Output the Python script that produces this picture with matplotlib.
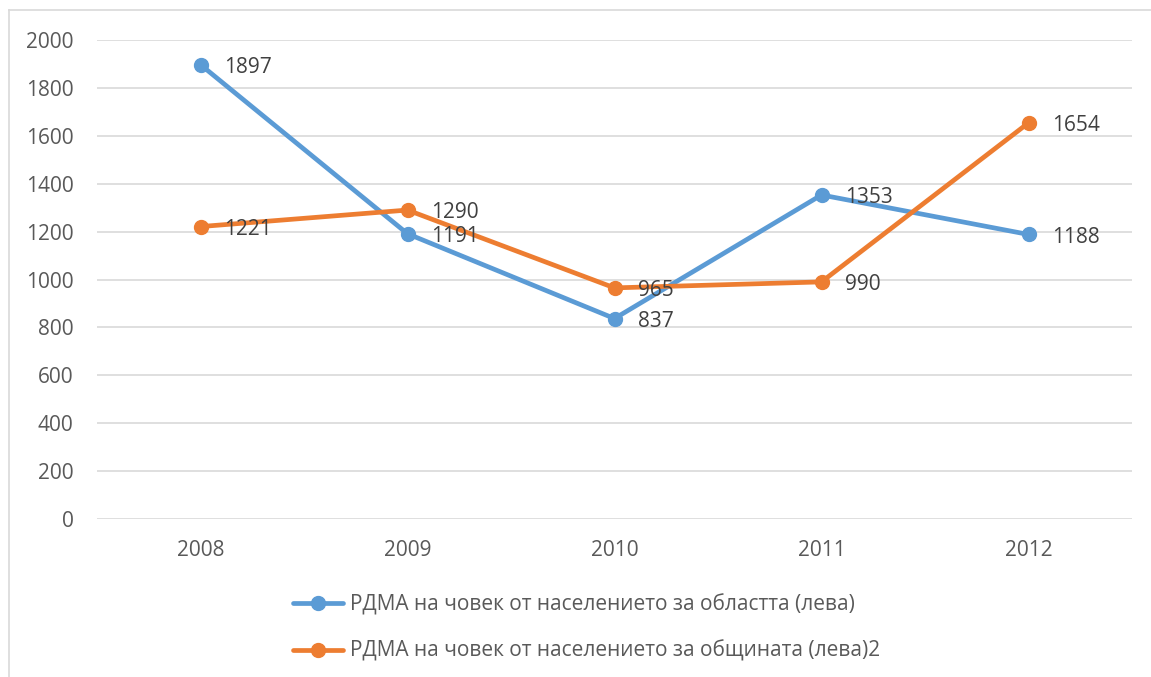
import matplotlib.pyplot as plt
from matplotlib.lines import Line2D

years = ["2008", "2009", "2010", "2011", "2012"]
oblast = [1897, 1191, 837, 1353, 1188]
obshtina = [1221, 1290, 965, 990, 1654]
label_oblast = "РДМА на човек от населението за областта (лева)"
label_obshtina = "РДМА на човек от населението за общината (лева)2"

plt.rcParams['font.family'] = ['Open Sans', 'DejaVu Sans']

W, H = 1151, 677
fig = plt.figure(figsize=(W / 100, H / 100), dpi=100)
ax = fig.add_axes([97 / W, 1 - 519 / H, (1132 - 97) / W, (519 - 40) / H])

x = list(range(len(years)))
blue = "#5B9BD5"
orange = "#ED7D31"

ax.plot(x, oblast, color=blue, lw=3.4, marker="o", ms=10, label=label_oblast,
        clip_on=False, zorder=3, solid_capstyle="round")
ax.plot(x, obshtina, color=orange, lw=3.4, marker="o", ms=10, label=label_obshtina,
        clip_on=False, zorder=3, solid_capstyle="round")

for xi, v in zip(x, oblast):
    ax.annotate(str(v), (xi, v), xytext=(17, -2), textcoords="offset points",
                va="center", ha="left", fontsize=15, color="#404040", zorder=4)
for xi, v in zip(x, obshtina):
    ax.annotate(str(v), (xi, v), xytext=(17, -2), textcoords="offset points",
                va="center", ha="left", fontsize=15, color="#404040", zorder=4)

ax.set_xlim(-0.5, 4.5)
ax.set_ylim(0, 2000)
ax.set_yticks(range(0, 2001, 200))
ax.set_xticks(x)
ax.set_xticklabels(years)
ax.grid(axis="y", color="#D9D9D9", lw=1.2)
ax.set_axisbelow(True)
for s in ax.spines.values():
    s.set_visible(False)
ax.tick_params(length=0, labelsize=15, colors="#595959")
ax.tick_params(axis="y", pad=17)
ax.tick_params(axis="x", pad=15)

fig.legend(loc="center left", bbox_to_anchor=(293 / W, 1 - 628 / H),
           frameon=False, fontsize=15, labelcolor="#595959", borderpad=0,
           borderaxespad=0, handlelength=2.4, handletextpad=0.33,
           labelspacing=1.2)

# outer chart border (only left and top visible)
fig.add_artist(Line2D([9 / W, 9 / W], [0, 1 - 10 / H], color="#D9D9D9", lw=1.2))
fig.add_artist(Line2D([9 / W, 1], [1 - 10 / H, 1 - 10 / H], color="#D9D9D9", lw=1.2))

fig.savefig("out.png", dpi=100)
